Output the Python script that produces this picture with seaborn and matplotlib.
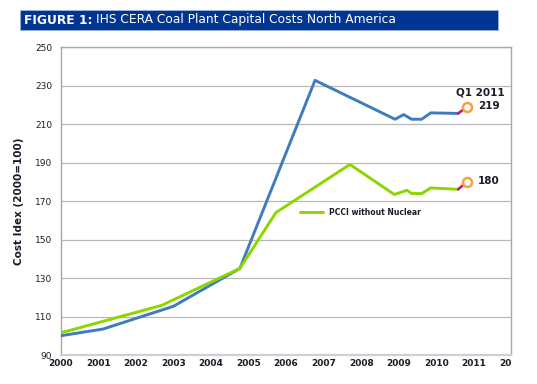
import pandas as pd
import matplotlib.pyplot as plt
import seaborn as sns
from matplotlib.patches import Rectangle

# Chart data
blue_x = [2000.0, 2001.13, 2003.0, 2004.77, 2006.77, 2008.9, 2009.13, 2009.34, 2009.61, 2009.85, 2010.58]
blue_y = [100, 103.5, 115.3, 135, 232.7, 212.5, 214.9, 212.5, 212.5, 215.8, 215.5]
green_x = [2000.0, 2002.69, 2004.77, 2005.73, 2007.7, 2008.88, 2009.22, 2009.34, 2009.61, 2009.85, 2010.58]
green_y = [101.5, 115.8, 135, 164, 189, 173.4, 175.6, 173.9, 173.9, 176.8, 176.1]
q1_x = 2010.82
q1_blue = 219
q1_green = 180
year_ticks = list(range(2000, 2013))
year_labels = [str(y) for y in range(2000, 2012)] + ["20"]
y_ticks = list(range(90, 251, 20))

blue_df = pd.DataFrame({"Year": blue_x, "Index": blue_y})
green_df = pd.DataFrame({"Year": green_x, "Index": green_y})

sns.set_style("white")
plt.rcParams['font.family'] = ['DejaVu Sans']

BLUE = "#3f7cbf"
GREEN = "#8cd600"
MAGENTA = "#c21a7c"
ORANGE = "#f7a146"
GRID = "#b8b8b8"
TXT = "#1c1c28"

fig = plt.figure(figsize=(5.37, 3.84), dpi=100)
ax = fig.add_axes([0.113, 0.0755, 0.8395, 0.802])

sns.lineplot(data=blue_df, x="Year", y="Index", ax=ax, color=BLUE, lw=2.1,
             sort=False, estimator=None, zorder=3)
sns.lineplot(data=green_df, x="Year", y="Index", ax=ax, color=GREEN, lw=2.1,
             sort=False, estimator=None, zorder=3, label="PCCI without Nuclear")

# Q1 2011 extension
ax.plot([blue_x[-1], q1_x], [blue_y[-1], q1_blue], color=MAGENTA, lw=1.9, zorder=3)
ax.plot([green_x[-1], q1_x], [green_y[-1], q1_green], color=MAGENTA, lw=1.9, zorder=3)
ax.plot([q1_x, q1_x], [q1_blue, q1_green], ls="none", marker="o", ms=6.5,
        mfc="white", mec=ORANGE, mew=1.8, zorder=4)

ax.text(q1_x + 0.35, 226.5, "Q1 2011", fontsize=7.5, fontweight="bold", color=TXT, ha="center", va="center")
ax.text(q1_x + 0.28, q1_blue + 0.5, "219", fontsize=7.5, fontweight="bold", color=TXT, ha="left", va="center")
ax.text(q1_x + 0.28, q1_green + 0.5, "180", fontsize=7.5, fontweight="bold", color=TXT, ha="left", va="center")

ax.set_xlim(2000, 2012)
ax.set_ylim(90, 250)
ax.set_yticks(y_ticks)
ax.set_xticks(year_ticks)
ax.set_xticklabels(year_labels)
ax.set_xlabel("")
ax.set_ylabel("Cost Idex (2000=100)", fontsize=7.5, fontweight="bold", color=TXT, labelpad=8)
ax.yaxis.grid(True, color=GRID, lw=0.9)
ax.set_axisbelow(True)

for side in ["left", "right", "top"]:
    ax.spines[side].set_color("#a8a8a8")
    ax.spines[side].set_linewidth(1.0)
ax.spines["bottom"].set_color("#cfcfcf")
ax.spines["bottom"].set_linewidth(1.6)

ax.tick_params(axis="y", length=4, width=0.9, color=GRID, labelsize=6.5, labelcolor=TXT, pad=2)
ax.tick_params(axis="x", length=2, width=0.8, color="#a8a8a8", direction="in",
               labelsize=6.5, labelcolor=TXT, pad=3)
for lbl in ax.get_xticklabels():
    lbl.set_fontweight("bold")
ax.get_xticklabels()[-1].set_ha("right")

leg = ax.legend(loc="center left", bbox_to_anchor=(0.53, 0.464), frameon=False,
                borderpad=0, borderaxespad=0, fontsize=5.5, handlelength=3.0,
                handletextpad=0.8)
for t in leg.get_texts():
    t.set_fontweight("bold")
    t.set_color(TXT)

# Title banner
fig.patches.append(Rectangle((20 / 537, 1 - 30 / 384), (498 - 20) / 537, 20 / 384,
                             transform=fig.transFigure, facecolor="#003591",
                             edgecolor="#9fb4d8", lw=0.6, zorder=0))
t1 = fig.text(24 / 537, 1 - 20 / 384, "FIGURE 1:", color="white", fontsize=8.8,
              fontweight="bold", va="center", ha="left")
r = fig.canvas.get_renderer()
bb = t1.get_window_extent(renderer=r)
fig.text((bb.x1 + 3) / 537, 1 - 20 / 384, "IHS CERA Coal Plant Capital Costs North America",
         color="white", fontsize=8.8, va="center", ha="left")

fig.savefig("out.png", dpi=100)
